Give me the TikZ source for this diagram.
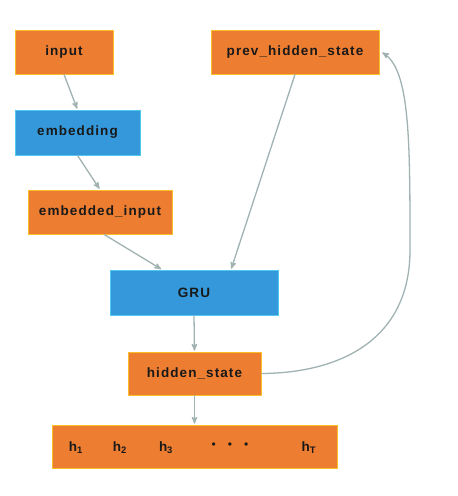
\documentclass[tikz,border=0pt]{standalone}
\usepackage{fontspec}
\setmainfont{Liberation Sans}
\newfontfamily\boxfont{Liberation Sans}[LetterSpace=8]
\usepackage{tikz}
\usetikzlibrary{arrows}
\definecolor{boxorange}{RGB}{237,125,49}
\definecolor{boxyellow}{RGB}{250,190,40}
\definecolor{boxblue}{RGB}{52,152,219}
\definecolor{boxcyan}{RGB}{80,200,240}
\definecolor{linegray}{RGB}{160,178,178}
\definecolor{textdark}{RGB}{25,25,25}
\begin{document}
\begin{tikzpicture}[x=1pt,y=-1pt]
\tikzset{tensor/.style = {shape=rectangle,draw=boxyellow,fill=boxorange,line width=0.8pt,inner sep=0pt,minimum height=44pt,text=textdark,font=\boxfont\bfseries\fontsize{13.5}{15}\selectfont}}
\tikzset{layer/.style = {tensor,draw=boxcyan,fill=boxblue,minimum height=45pt}}
\tikzset{label/.style = {anchor=base,text=textdark,font=\boxfont\bfseries\fontsize{13.5}{15}\selectfont}}
\tikzset{edge/.style = {->,> = stealth',draw=linegray,line width=1.3pt,shorten >=1pt}}
\useasboundingbox (0,0) rectangle (458,496);
\node[tensor,minimum width=98pt](in) at (64,52) {input};
\node[tensor,minimum width=168pt](prev) at (295,52) {prev\_hidden\_state};
\node[layer,minimum width=125pt](emb) at (77.5,132.5) {embedding};
\node[tensor,minimum width=144pt](emi) at (100,212) {embedded\_input};
\node[layer,minimum width=168pt](gru) at (194,292.5) {GRU};
\node[tensor,minimum width=133pt,minimum height=43pt](hs) at (194.5,373.5) {hidden\_state};
\node[tensor,minimum width=285pt,minimum height=43pt](out) at (194.5,446.5) {};
\node[label](h1) at (76,451) {h\textsubscript{1}};
\node[label](h2) at (120,451) {h\textsubscript{2}};
\node[label](h3) at (166,451) {h\textsubscript{3}};
\node[text=textdark,font=\fontsize{12}{13}\selectfont](dots) at (230,446) {\textbullet\hspace{12pt}\textbullet\hspace{12pt}\textbullet};
\node[label](hT) at (309,451) {h\textsubscript{T}};
\draw[edge] (in.south) -- (emb.north);
\draw[edge] (emb.south) -- (emi.north);
\draw[edge] ([xshift=4pt]emi.south) -- ([xshift=-32pt]gru.north);
\draw[edge] (prev.south) -- ([xshift=37pt]gru.north);
\draw[edge] (gru.south) -- (hs.north);
\draw[edge] (hs.south) -- (out.north);
\draw[edge] (hs.east) .. controls (340,373) and (410,340) .. (410,250) .. controls (410,140) and (410,70) .. ([xshift=2pt]prev.east);
\end{tikzpicture}
\end{document}
